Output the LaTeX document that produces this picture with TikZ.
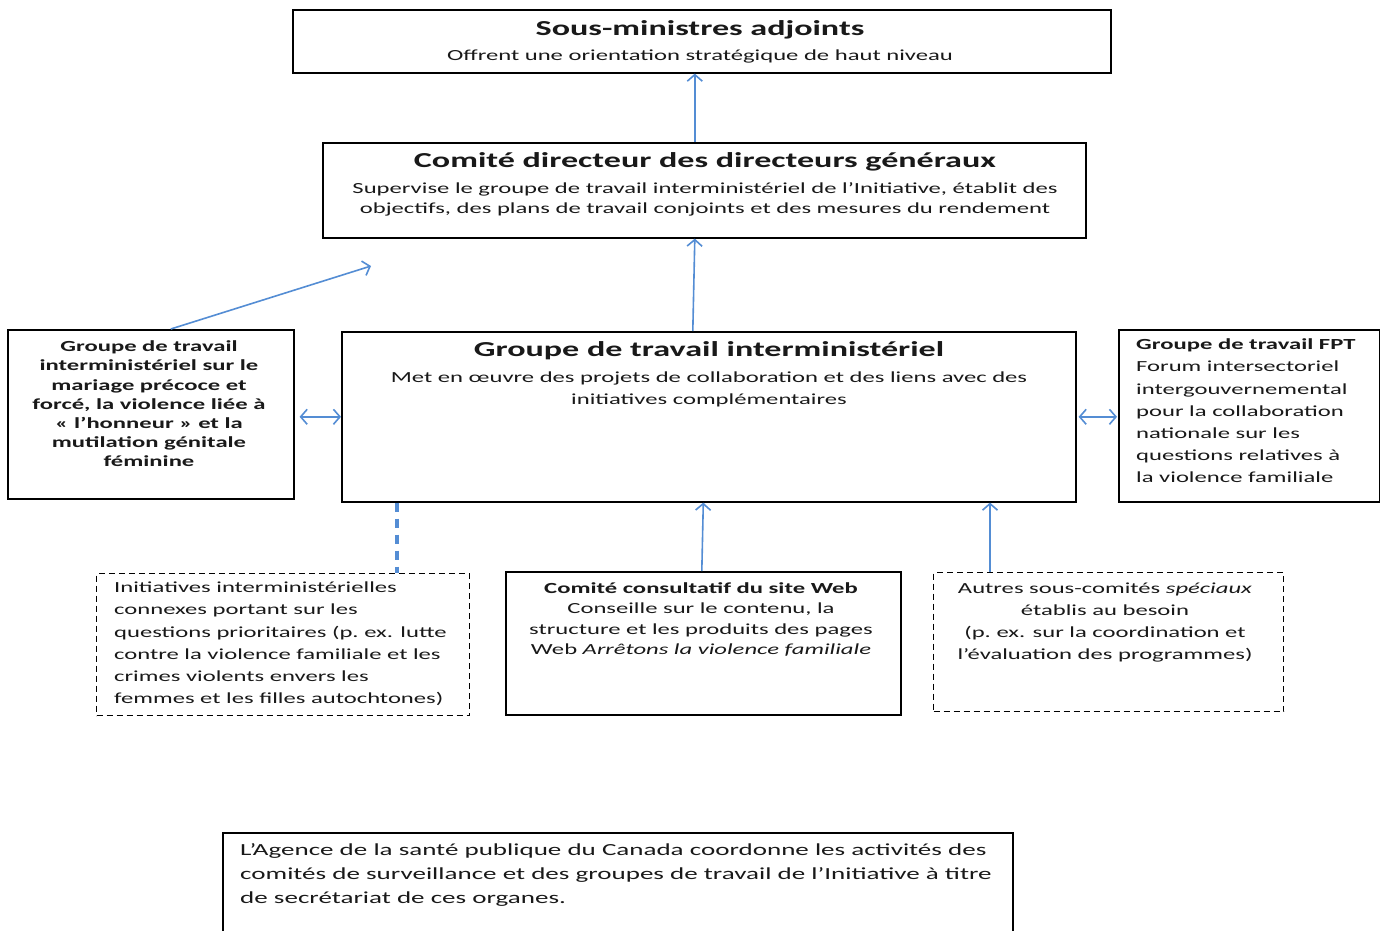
\documentclass[tikz,border=0pt]{standalone}
\usepackage{fontspec}
\setmainfont{Carlito}[FakeStretch=1.6]
\usetikzlibrary{arrows.meta}
\definecolor{arrowblue}{RGB}{84,141,212}
\definecolor{inktext}{RGB}{25,25,25}
\begin{document}
\begin{tikzpicture}[x=1pt,y=-1pt,
  box/.style={draw=black, line width=1.6pt, inner sep=0, anchor=north west},
  dbox/.style={box, line width=1.3pt, dash pattern=on 6pt off 4pt},
  conn/.style={draw=arrowblue, line width=1.6pt, -{Straight Barb[length=6.5pt,width=15pt]}},
  dconn/.style={draw=arrowblue, line width=1.6pt, {Straight Barb[length=6.5pt,width=15pt]}-{Straight Barb[length=6.5pt,width=15pt]}},
  dashconn/.style={draw=arrowblue, line width=3.2pt, dash pattern=on 9pt off 7pt},
  title/.style={inner sep=0, text=inktext, font=\bfseries\fontsize{21.3}{24}\selectfont},
  body/.style={inner sep=0, text=inktext, align=center, font=\fontsize{15.4}{#1}\selectfont},
  body/.default=20,
  lbody/.style={inner sep=0, text=inktext, align=left, anchor=west, font=\fontsize{15.4}{#1}\selectfont},
  lbody/.default=22.2
]
\useasboundingbox (0,0) rectangle (1380,930);
\fill[white] (0,0) rectangle (1380,930);

% boxes
\node[box, minimum width=818pt, minimum height=63pt] (sma) at (292,9) {};
\node[box, minimum width=763pt, minimum height=95pt] (cdg) at (322,142) {};
\node[box, minimum width=286pt, minimum height=169pt] (lg) at (7,329) {};
\node[box, minimum width=734pt, minimum height=170pt] (gti) at (341,331) {};
\node[box, minimum width=261pt, minimum height=172pt] (fpt) at (1118,329) {};
\node[dbox, minimum width=373pt, minimum height=142pt] (dl) at (96,573) {};
\node[box, minimum width=395pt, minimum height=143pt] (cc) at (505,571) {};
\node[dbox, minimum width=350pt, minimum height=139pt] (dr) at (933,572) {};
\node[box, minimum width=790pt, minimum height=110pt] (ag) at (222,832) {};

% texts
\node[title] at (700,30) {Sous-ministres adjoints};
\node[body] at (700,56) {Offrent une orientation stratégique de haut niveau};

\node[title] at (705,162) {Comité directeur des directeurs généraux};
\node[body=20] at (705,199) {Supervise le groupe de travail interministériel de l’Initiative, établit des\\objectifs, des plans de travail conjoints et des mesures du rendement};

\node[title] at (709,351) {Groupe de travail interministériel};
\node[body=22] at (709,389) {Met en œuvre des projets de collaboration et des liens avec des\\initiatives complémentaires};

\node[body=19.2, font=\bfseries\fontsize{15.4}{19.2}\selectfont] at (149,404) {Groupe de travail\\interministériel sur le\\mariage précoce et\\forcé, la violence liée à\\« l’honneur » et la\\mutilation génitale\\féminine};

\node[lbody] at (1136,411) {\textbf{Groupe de travail FPT}\\Forum intersectoriel\\intergouvernemental\\pour la collaboration\\nationale sur les\\questions relatives à\\la violence familiale};

\node[lbody] at (114,644) {Initiatives interministérielles\\connexes portant sur les\\questions prioritaires (p.\ ex. lutte\\contre la violence familiale et les\\crimes violents envers les\\femmes et les filles autochtones)};

\node[body=20.5] at (701,619.5) {\textbf{Comité consultatif du site Web}\\Conseille sur le contenu, la\\structure et les produits des pages\\Web \textit{Arrêtons la violence familiale}};

\node[body=22.3] at (1105,622.5) {Autres sous-comités \textit{spéciaux}\\établis au besoin\\(p.\ ex. sur la coordination et\\l’évaluation des programmes)};

\node[lbody=24, font=\fontsize{16.9}{24}\selectfont] at (240,875) {L’Agence de la santé publique du Canada coordonne les activités des\\comités de surveillance et des groupes de travail de l’Initiative à titre\\de secrétariat de ces organes.};

% connectors
\draw[conn] ([xshift=-9.5pt]cdg.north) -- ([xshift=-7pt]sma.south);
\draw[conn] ([xshift=-16pt]gti.north) -- ([xshift=-9.5pt]cdg.south);
\coordinate (lgend) at (371,266);
\draw[conn] ([xshift=20pt]lg.north) -- (lgend);
\draw[dconn] ([xshift=5pt,yshift=-2.5pt]lg.east) -- (gti.west);
\draw[dconn] ([xshift=2pt]gti.east) -- ([xshift=-1pt,yshift=-1pt]fpt.west);
\coordinate (dlx) at (397,0);
\draw[dashconn] (gti.south -| dlx) -- (dl.north -| dlx);
\draw[conn] ([xshift=-1.5pt]cc.north) -- (cc.north |- gti.south);
\coordinate (drx) at (990,0);
\draw[conn] (dr.north -| drx) -- (gti.south -| drx);
\end{tikzpicture}
\end{document}
